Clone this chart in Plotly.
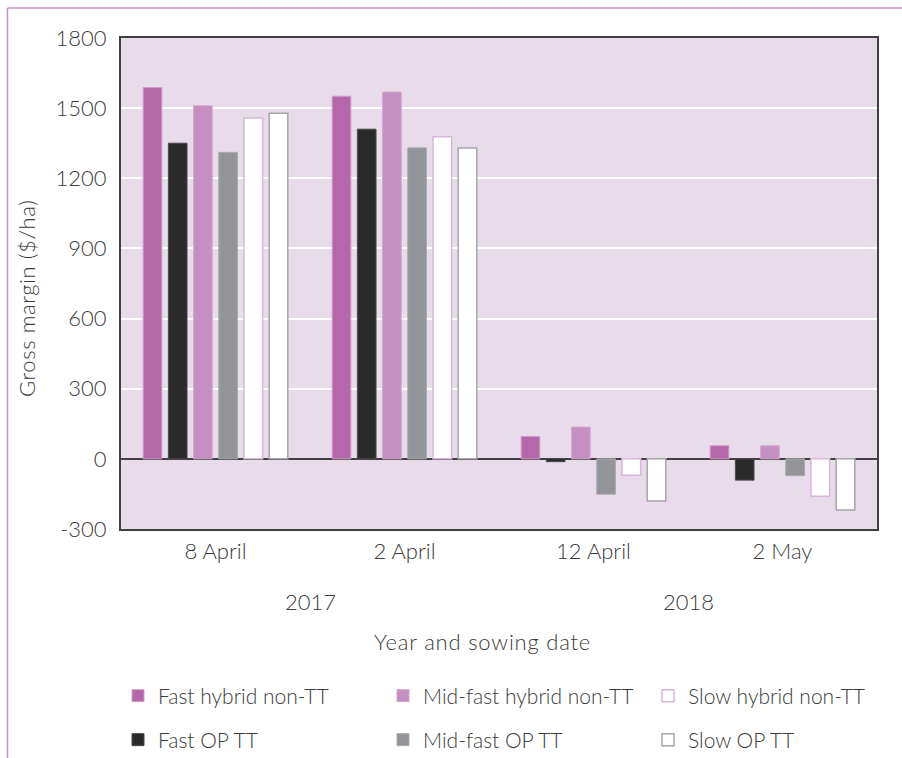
import plotly.graph_objects as go

# ---- data ----
dates = ["8 April", "2 April", "12 April", "2 May"]
years = ["2017", "2018"]
series_names = ["Fast hybrid non-TT", "Fast OP TT", "Mid-fast hybrid non-TT",
                "Mid-fast OP TT", "Slow hybrid non-TT", "Slow OP TT"]
fast_hybrid = [1588, 1551, 96, 56]
fast_op = [1350, 1410, -12, -91]
midfast_hybrid = [1510, 1569, 136, 56]
midfast_op = [1311, 1330, -151, -72]
slow_hybrid = [1458, 1378, -70, -160]
slow_op = [1478, 1329, -180, -219]
y_ticks = [-300, 0, 300, 600, 900, 1200, 1500, 1800]
y_tick_text = [str(v) for v in y_ticks]

values = [fast_hybrid, fast_op, midfast_hybrid, midfast_op, slow_hybrid, slow_op]
fills = ["#b468aa", "#2a2a2a", "#c68fc1", "#939598", "#ffffff", "#ffffff"]
edges = ["#cf9ccb", "#4a4a4a", "#d3a6cf", "#a9abad", "#dab6dc", "#a7a7a9"]
edge_w = [1, 1, 1, 1, 1.5, 1.5]

FONT = "Lato"
WEIGHT = 300
TXT = "#3c3c3c"


def fnt(size):
    return dict(family=FONT, size=size, color=TXT, weight=WEIGHT)


W, H = 902, 758
ML, MR, MT, MB = 121, 25, 38, 229
pw, ph = W - ML - MR, H - MT - MB


def px_x(px):
    return (px - ML) / pw


def px_y(py):
    return (H - MB - py) / ph


# legend grid: columns (symbol left edge) and rows (text centre line), in pixels
legend_cols = [118, 383, 648]
legend_rows = [696, 740]

fig = go.Figure()
legend_layout = {}
for k, (name, vals, fc, ec, ew) in enumerate(zip(series_names, values, fills, edges, edge_w)):
    key = "legend" if k == 0 else f"legend{k + 1}"
    col, row = k // 2, k % 2
    fig.add_trace(go.Bar(
        x=dates, y=vals, name=name,
        marker=dict(color=fc, line=dict(color=ec, width=ew)),
        legend=key, showlegend=True,
    ))
    legend_layout[key] = dict(
        x=px_x(legend_cols[col]), xref="paper",
        y=1 - legend_rows[row] / H, yref="container",
        xanchor="left", yanchor="middle", orientation="h",
        bgcolor="rgba(0,0,0,0)",
        font=fnt(21),
    )

fig.update_layout(
    width=W, height=H,
    margin=dict(l=ML, r=MR, t=MT, b=MB),
    paper_bgcolor="white",
    plot_bgcolor="#e8dbea",
    showlegend=True,
    barmode="group", bargap=0.2, bargroupgap=0.26,
    font=fnt(21),
    xaxis=dict(
        showgrid=False, showline=True, linecolor="#404040", linewidth=2, mirror=True,
        ticks="", tickfont=fnt(22),
        ticklabelstandoff=2,
    ),
    yaxis=dict(
        range=[-300, 1800], tickvals=y_ticks, ticktext=y_tick_text,
        showgrid=True, gridcolor="#ffffff", gridwidth=1.5,
        zeroline=True, zerolinecolor="#404040", zerolinewidth=1.5,
        showline=True, linecolor="#404040", linewidth=2, mirror=True,
        ticks="", tickfont=fnt(22),
        ticklabelstandoff=8,
    ),
    **legend_layout,
)

# year labels under category pairs
for i, yr in enumerate(years):
    fig.add_annotation(x=0.25 + 0.5 * i, y=px_y(601), xref="paper", yref="paper",
                       text=yr, showarrow=False, xanchor="center", yanchor="middle",
                       font=fnt(22))

# axis titles
fig.add_annotation(x=px_x(482), y=px_y(641), xref="paper", yref="paper",
                   text="<span style='letter-spacing:0.8px'>Year and sowing date</span>",
                   showarrow=False, xanchor="center", yanchor="middle",
                   font=fnt(22))
fig.add_annotation(x=px_x(26), y=px_y(299), xref="paper", yref="paper",
                   text="<span style='letter-spacing:0.6px'>Gross margin ($/ha)</span>",
                   showarrow=False, textangle=-90,
                   xanchor="center", yanchor="middle",
                   font=fnt(22))

# pink frame (top and left edges)
border = "#c88fc6"
fig.add_shape(type="line", xref="paper", yref="paper",
              x0=px_x(7.5), x1=px_x(905), y0=px_y(8), y1=px_y(8),
              line=dict(color=border, width=1.5))
fig.add_shape(type="line", xref="paper", yref="paper",
              x0=px_x(7.5), x1=px_x(7.5), y0=px_y(8), y1=px_y(762),
              line=dict(color=border, width=1.5))

fig.write_html("out.html", config={"displayModeBar": False},
               post_script="document.body.style.margin='0';")
